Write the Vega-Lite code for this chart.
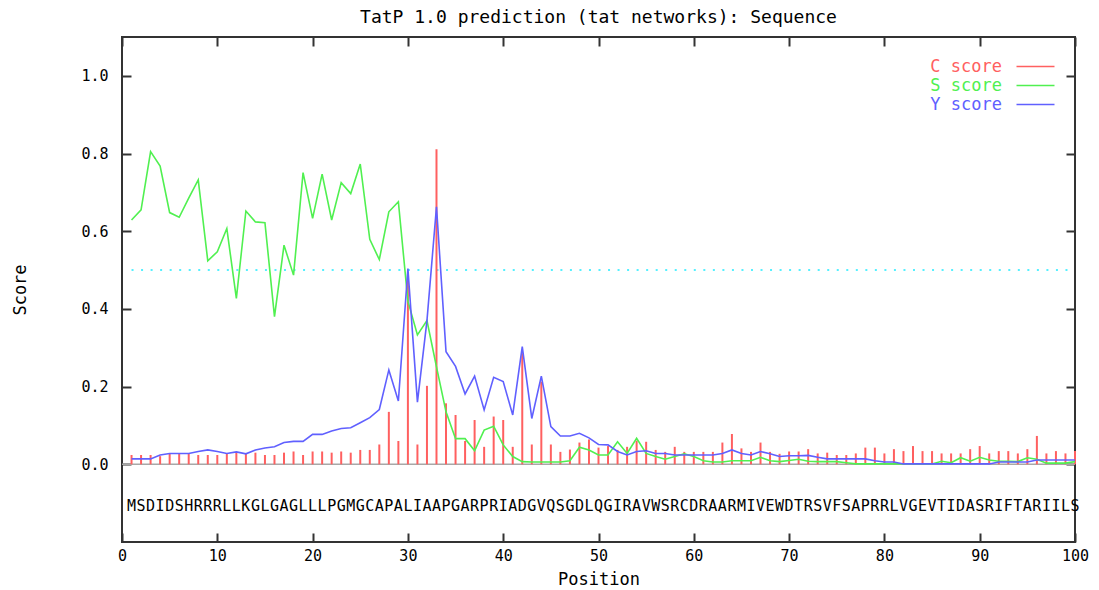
{
  "$schema": "https://vega.github.io/schema/vega-lite/v6.json",
  "width": 953,
  "height": 505,
  "autosize": {"type": "none"},
  "padding": {"left": 122, "top": 37, "right": 24, "bottom": 48},
  "background": "white",
  "title": {"text": "TatP 1.0 prediction (tat networks): Sequence", "font": "DejaVu Sans Mono", "fontSize": 18, "fontWeight": "normal", "color": "#000000", "anchor": "middle", "baseline": "middle", "offset": 0},
  "config": {
    "view": {"stroke": "#333333", "strokeWidth": 2},
    "axis": {"grid": false, "domain": false, "tickSize": -9, "tickWidth": 2, "tickColor": "#333333", "labelFont": "DejaVu Sans Mono", "labelFontSize": 15, "labelColor": "#000000", "titleFont": "DejaVu Sans Mono", "titleFontSize": 17, "titleFontWeight": "normal", "titleColor": "#000000", "labelFlush": false}
  },
  "datasets": {
    "tatp": [
      {"pos":1,"aa":"M","C":0.024,"S":0.629,"Y":0.014},
      {"pos":2,"aa":"S","C":0.024,"S":0.655,"Y":0.014},
      {"pos":3,"aa":"D","C":0.024,"S":0.805,"Y":0.014},
      {"pos":4,"aa":"I","C":0.021,"S":0.768,"Y":0.024},
      {"pos":5,"aa":"D","C":0.027,"S":0.648,"Y":0.028},
      {"pos":6,"aa":"S","C":0.027,"S":0.636,"Y":0.028},
      {"pos":7,"aa":"H","C":0.027,"S":0.685,"Y":0.028},
      {"pos":8,"aa":"R","C":0.024,"S":0.732,"Y":0.033},
      {"pos":9,"aa":"R","C":0.024,"S":0.524,"Y":0.037},
      {"pos":10,"aa":"R","C":0.024,"S":0.547,"Y":0.033},
      {"pos":11,"aa":"L","C":0.027,"S":0.607,"Y":0.028},
      {"pos":12,"aa":"L","C":0.030,"S":0.427,"Y":0.032},
      {"pos":13,"aa":"K","C":0.027,"S":0.652,"Y":0.027},
      {"pos":14,"aa":"G","C":0.030,"S":0.624,"Y":0.037},
      {"pos":15,"aa":"L","C":0.024,"S":0.622,"Y":0.042},
      {"pos":16,"aa":"G","C":0.024,"S":0.380,"Y":0.045},
      {"pos":17,"aa":"A","C":0.030,"S":0.564,"Y":0.056},
      {"pos":18,"aa":"G","C":0.033,"S":0.487,"Y":0.059},
      {"pos":19,"aa":"L","C":0.024,"S":0.751,"Y":0.059},
      {"pos":20,"aa":"L","C":0.033,"S":0.633,"Y":0.077},
      {"pos":21,"aa":"L","C":0.033,"S":0.747,"Y":0.077},
      {"pos":22,"aa":"P","C":0.030,"S":0.629,"Y":0.086},
      {"pos":23,"aa":"G","C":0.033,"S":0.725,"Y":0.092},
      {"pos":24,"aa":"M","C":0.030,"S":0.697,"Y":0.094},
      {"pos":25,"aa":"G","C":0.037,"S":0.773,"Y":0.107},
      {"pos":26,"aa":"C","C":0.037,"S":0.579,"Y":0.120},
      {"pos":27,"aa":"A","C":0.051,"S":0.527,"Y":0.141},
      {"pos":28,"aa":"P","C":0.135,"S":0.650,"Y":0.243},
      {"pos":29,"aa":"A","C":0.060,"S":0.676,"Y":0.163},
      {"pos":30,"aa":"L","C":0.474,"S":0.420,"Y":0.504},
      {"pos":31,"aa":"I","C":0.051,"S":0.333,"Y":0.160},
      {"pos":32,"aa":"A","C":0.202,"S":0.370,"Y":0.370},
      {"pos":33,"aa":"A","C":0.811,"S":0.251,"Y":0.663},
      {"pos":34,"aa":"P","C":0.157,"S":0.135,"Y":0.290},
      {"pos":35,"aa":"G","C":0.127,"S":0.066,"Y":0.252},
      {"pos":36,"aa":"A","C":0.060,"S":0.066,"Y":0.181},
      {"pos":37,"aa":"R","C":0.114,"S":0.035,"Y":0.227},
      {"pos":38,"aa":"P","C":0.045,"S":0.088,"Y":0.140},
      {"pos":39,"aa":"R","C":0.123,"S":0.098,"Y":0.224},
      {"pos":40,"aa":"I","C":0.114,"S":0.050,"Y":0.213},
      {"pos":41,"aa":"A","C":0.045,"S":0.020,"Y":0.127},
      {"pos":42,"aa":"D","C":0.286,"S":0.007,"Y":0.303},
      {"pos":43,"aa":"G","C":0.051,"S":0.006,"Y":0.118},
      {"pos":44,"aa":"V","C":0.213,"S":0.006,"Y":0.227},
      {"pos":45,"aa":"Q","C":0.051,"S":0.006,"Y":0.097},
      {"pos":46,"aa":"S","C":0.032,"S":0.006,"Y":0.073},
      {"pos":47,"aa":"G","C":0.038,"S":0.009,"Y":0.073},
      {"pos":48,"aa":"D","C":0.056,"S":0.044,"Y":0.080},
      {"pos":49,"aa":"L","C":0.064,"S":0.037,"Y":0.068},
      {"pos":50,"aa":"Q","C":0.043,"S":0.024,"Y":0.051},
      {"pos":51,"aa":"G","C":0.047,"S":0.024,"Y":0.050},
      {"pos":52,"aa":"I","C":0.037,"S":0.058,"Y":0.033},
      {"pos":53,"aa":"R","C":0.045,"S":0.028,"Y":0.024},
      {"pos":54,"aa":"A","C":0.061,"S":0.067,"Y":0.033},
      {"pos":55,"aa":"V","C":0.058,"S":0.028,"Y":0.035},
      {"pos":56,"aa":"W","C":0.037,"S":0.020,"Y":0.028},
      {"pos":57,"aa":"S","C":0.032,"S":0.013,"Y":0.028},
      {"pos":58,"aa":"R","C":0.045,"S":0.020,"Y":0.024},
      {"pos":59,"aa":"C","C":0.032,"S":0.027,"Y":0.024},
      {"pos":60,"aa":"D","C":0.032,"S":0.020,"Y":0.024},
      {"pos":61,"aa":"R","C":0.032,"S":0.009,"Y":0.024},
      {"pos":62,"aa":"A","C":0.032,"S":0.006,"Y":0.024},
      {"pos":63,"aa":"A","C":0.056,"S":0.006,"Y":0.028},
      {"pos":64,"aa":"R","C":0.078,"S":0.009,"Y":0.037},
      {"pos":65,"aa":"M","C":0.041,"S":0.009,"Y":0.028},
      {"pos":66,"aa":"I","C":0.032,"S":0.009,"Y":0.024},
      {"pos":67,"aa":"V","C":0.056,"S":0.018,"Y":0.033},
      {"pos":68,"aa":"E","C":0.032,"S":0.009,"Y":0.027},
      {"pos":69,"aa":"W","C":0.027,"S":0.007,"Y":0.020},
      {"pos":70,"aa":"D","C":0.033,"S":0.010,"Y":0.022},
      {"pos":71,"aa":"T","C":0.033,"S":0.013,"Y":0.022},
      {"pos":72,"aa":"R","C":0.039,"S":0.008,"Y":0.023},
      {"pos":73,"aa":"S","C":0.028,"S":0.007,"Y":0.018},
      {"pos":74,"aa":"V","C":0.030,"S":0.007,"Y":0.014},
      {"pos":75,"aa":"F","C":0.024,"S":0.007,"Y":0.014},
      {"pos":76,"aa":"S","C":0.024,"S":0.004,"Y":0.014},
      {"pos":77,"aa":"A","C":0.028,"S":0.001,"Y":0.014},
      {"pos":78,"aa":"P","C":0.043,"S":0.001,"Y":0.014},
      {"pos":79,"aa":"R","C":0.043,"S":0.001,"Y":0.009},
      {"pos":80,"aa":"R","C":0.028,"S":0.001,"Y":0.006},
      {"pos":81,"aa":"L","C":0.039,"S":0.001,"Y":0.006},
      {"pos":82,"aa":"V","C":0.034,"S":0.001,"Y":0.001},
      {"pos":83,"aa":"G","C":0.047,"S":0.001,"Y":0.001},
      {"pos":84,"aa":"E","C":0.034,"S":0.001,"Y":0.001},
      {"pos":85,"aa":"V","C":0.034,"S":0.001,"Y":0.001},
      {"pos":86,"aa":"T","C":0.028,"S":0.008,"Y":0.001},
      {"pos":87,"aa":"I","C":0.028,"S":0.004,"Y":0.001},
      {"pos":88,"aa":"D","C":0.028,"S":0.017,"Y":0.001},
      {"pos":89,"aa":"A","C":0.039,"S":0.008,"Y":0.001},
      {"pos":90,"aa":"S","C":0.047,"S":0.018,"Y":0.001},
      {"pos":91,"aa":"R","C":0.028,"S":0.011,"Y":0.001},
      {"pos":92,"aa":"I","C":0.034,"S":0.008,"Y":0.006},
      {"pos":93,"aa":"F","C":0.034,"S":0.008,"Y":0.006},
      {"pos":94,"aa":"T","C":0.028,"S":0.007,"Y":0.006},
      {"pos":95,"aa":"A","C":0.039,"S":0.017,"Y":0.006},
      {"pos":96,"aa":"R","C":0.073,"S":0.013,"Y":0.011},
      {"pos":97,"aa":"I","C":0.028,"S":0.003,"Y":0.011},
      {"pos":98,"aa":"I","C":0.034,"S":0.003,"Y":0.011},
      {"pos":99,"aa":"L","C":0.028,"S":0.003,"Y":0.011},
      {"pos":100,"aa":"S","C":0.034,"S":0.007,"Y":0.011}
    ]
  },
  "resolve": {"axis": {"x": "independent", "y": "independent"}},
  "layer": [
    {
      "data": {"values": [{}]},
      "mark": {"type": "rule", "color": "#a8a8a8", "strokeWidth": 1.5},
      "encoding": {
        "y": {"datum": 0, "type": "quantitative", "scale": {"domain": [-0.2, 1.1], "nice": false, "zero": false}, "axis": null}
      }
    },
    {
      "data": {"values": [{}]},
      "mark": {"type": "rule", "color": "#55f0ff", "strokeWidth": 2, "strokeDash": [2, 7.53]},
      "encoding": {
        "x": {"datum": 1, "type": "quantitative", "scale": {"domain": [0, 100], "nice": false, "zero": false}, "axis": null},
        "x2": {"datum": 100},
        "y": {"datum": 0.5, "type": "quantitative", "scale": {"domain": [-0.2, 1.1], "nice": false, "zero": false}, "axis": null}
      }
    },
    {
      "data": {"name": "tatp"},
      "transform": [{"fold": ["C"], "as": ["series", "score"]}],
      "mark": {"type": "rule", "strokeWidth": 2},
      "encoding": {
        "x": {"field": "pos", "type": "quantitative", "scale": {"domain": [0, 100], "nice": false, "zero": false},
              "axis": {"orient": "bottom", "values": [0, 10, 20, 30, 40, 50, 60, 70, 80, 90, 100], "labelPadding": 15, "title": "Position", "titleX": 476.5, "titleY": 37, "titleBaseline": "middle", "titleAlign": "center"}},
        "y": {"field": "score", "type": "quantitative", "scale": {"domain": [-0.2, 1.1], "nice": false, "zero": false},
              "axis": {"orient": "left", "values": [0, 0.2, 0.4, 0.6, 0.8, 1], "format": ".1f", "labelPadding": 23, "title": "Score", "titleX": -102, "titleY": 252.5, "titleAngle": -90, "titleBaseline": "middle", "titleAlign": "center"}},
        "y2": {"datum": 0},
        "color": {"field": "series", "type": "nominal", "scale": {"domain": ["C", "S", "Y"], "range": ["#ff6060", "#50f050", "#6060ff"]},
                  "legend": {"orient": "none", "legendX": 905, "legendY": 21, "title": null, "symbolType": "M-2.5,0H2.5", "symbolSize": 231, "symbolStrokeWidth": 1.6, "labelAlign": "right", "labelOffset": -42, "labelFont": "DejaVu Sans Mono", "labelFontSize": 17, "rowPadding": 1, "labelExpr": "datum.label + ' score'", "encode": {"labels": {"update": {"fill": {"scale": "color", "field": "value"}}}}}}
      }
    },
    {
      "data": {"name": "tatp"},
      "transform": [{"fold": ["S", "Y"], "as": ["series", "score"]}],
      "mark": {"type": "line", "strokeWidth": 1.6},
      "encoding": {
        "x": {"field": "pos", "type": "quantitative", "scale": {"domain": [0, 100], "nice": false, "zero": false},
              "axis": {"orient": "top", "values": [0, 10, 20, 30, 40, 50, 60, 70, 80, 90, 100], "labels": false, "title": null}},
        "y": {"field": "score", "type": "quantitative", "scale": {"domain": [-0.2, 1.1], "nice": false, "zero": false},
              "axis": {"orient": "right", "values": [0, 0.2, 0.4, 0.6, 0.8, 1], "labels": false, "title": null}},
        "color": {"field": "series", "type": "nominal", "scale": {"domain": ["C", "S", "Y"], "range": ["#ff6060", "#50f050", "#6060ff"]},
                  "legend": {"orient": "none", "legendX": 905, "legendY": 21, "title": null, "symbolType": "M-2.5,0H2.5", "symbolSize": 231, "symbolStrokeWidth": 1.6, "labelAlign": "right", "labelOffset": -42, "labelFont": "DejaVu Sans Mono", "labelFontSize": 17, "rowPadding": 1, "labelExpr": "datum.label + ' score'", "encode": {"labels": {"update": {"fill": {"scale": "color", "field": "value"}}}}}}
      }
    },
    {
      "data": {"name": "tatp"},
      "mark": {"type": "text", "font": "DejaVu Sans Mono", "fontSize": 15, "color": "#000000", "baseline": "middle", "align": "center"},
      "encoding": {
        "x": {"field": "pos", "type": "quantitative", "scale": {"domain": [0, 100], "nice": false, "zero": false}, "axis": null},
        "y": {"datum": -0.107, "type": "quantitative", "scale": {"domain": [-0.2, 1.1], "nice": false, "zero": false}, "axis": null},
        "text": {"field": "aa"}
      }
    }
  ]
}
